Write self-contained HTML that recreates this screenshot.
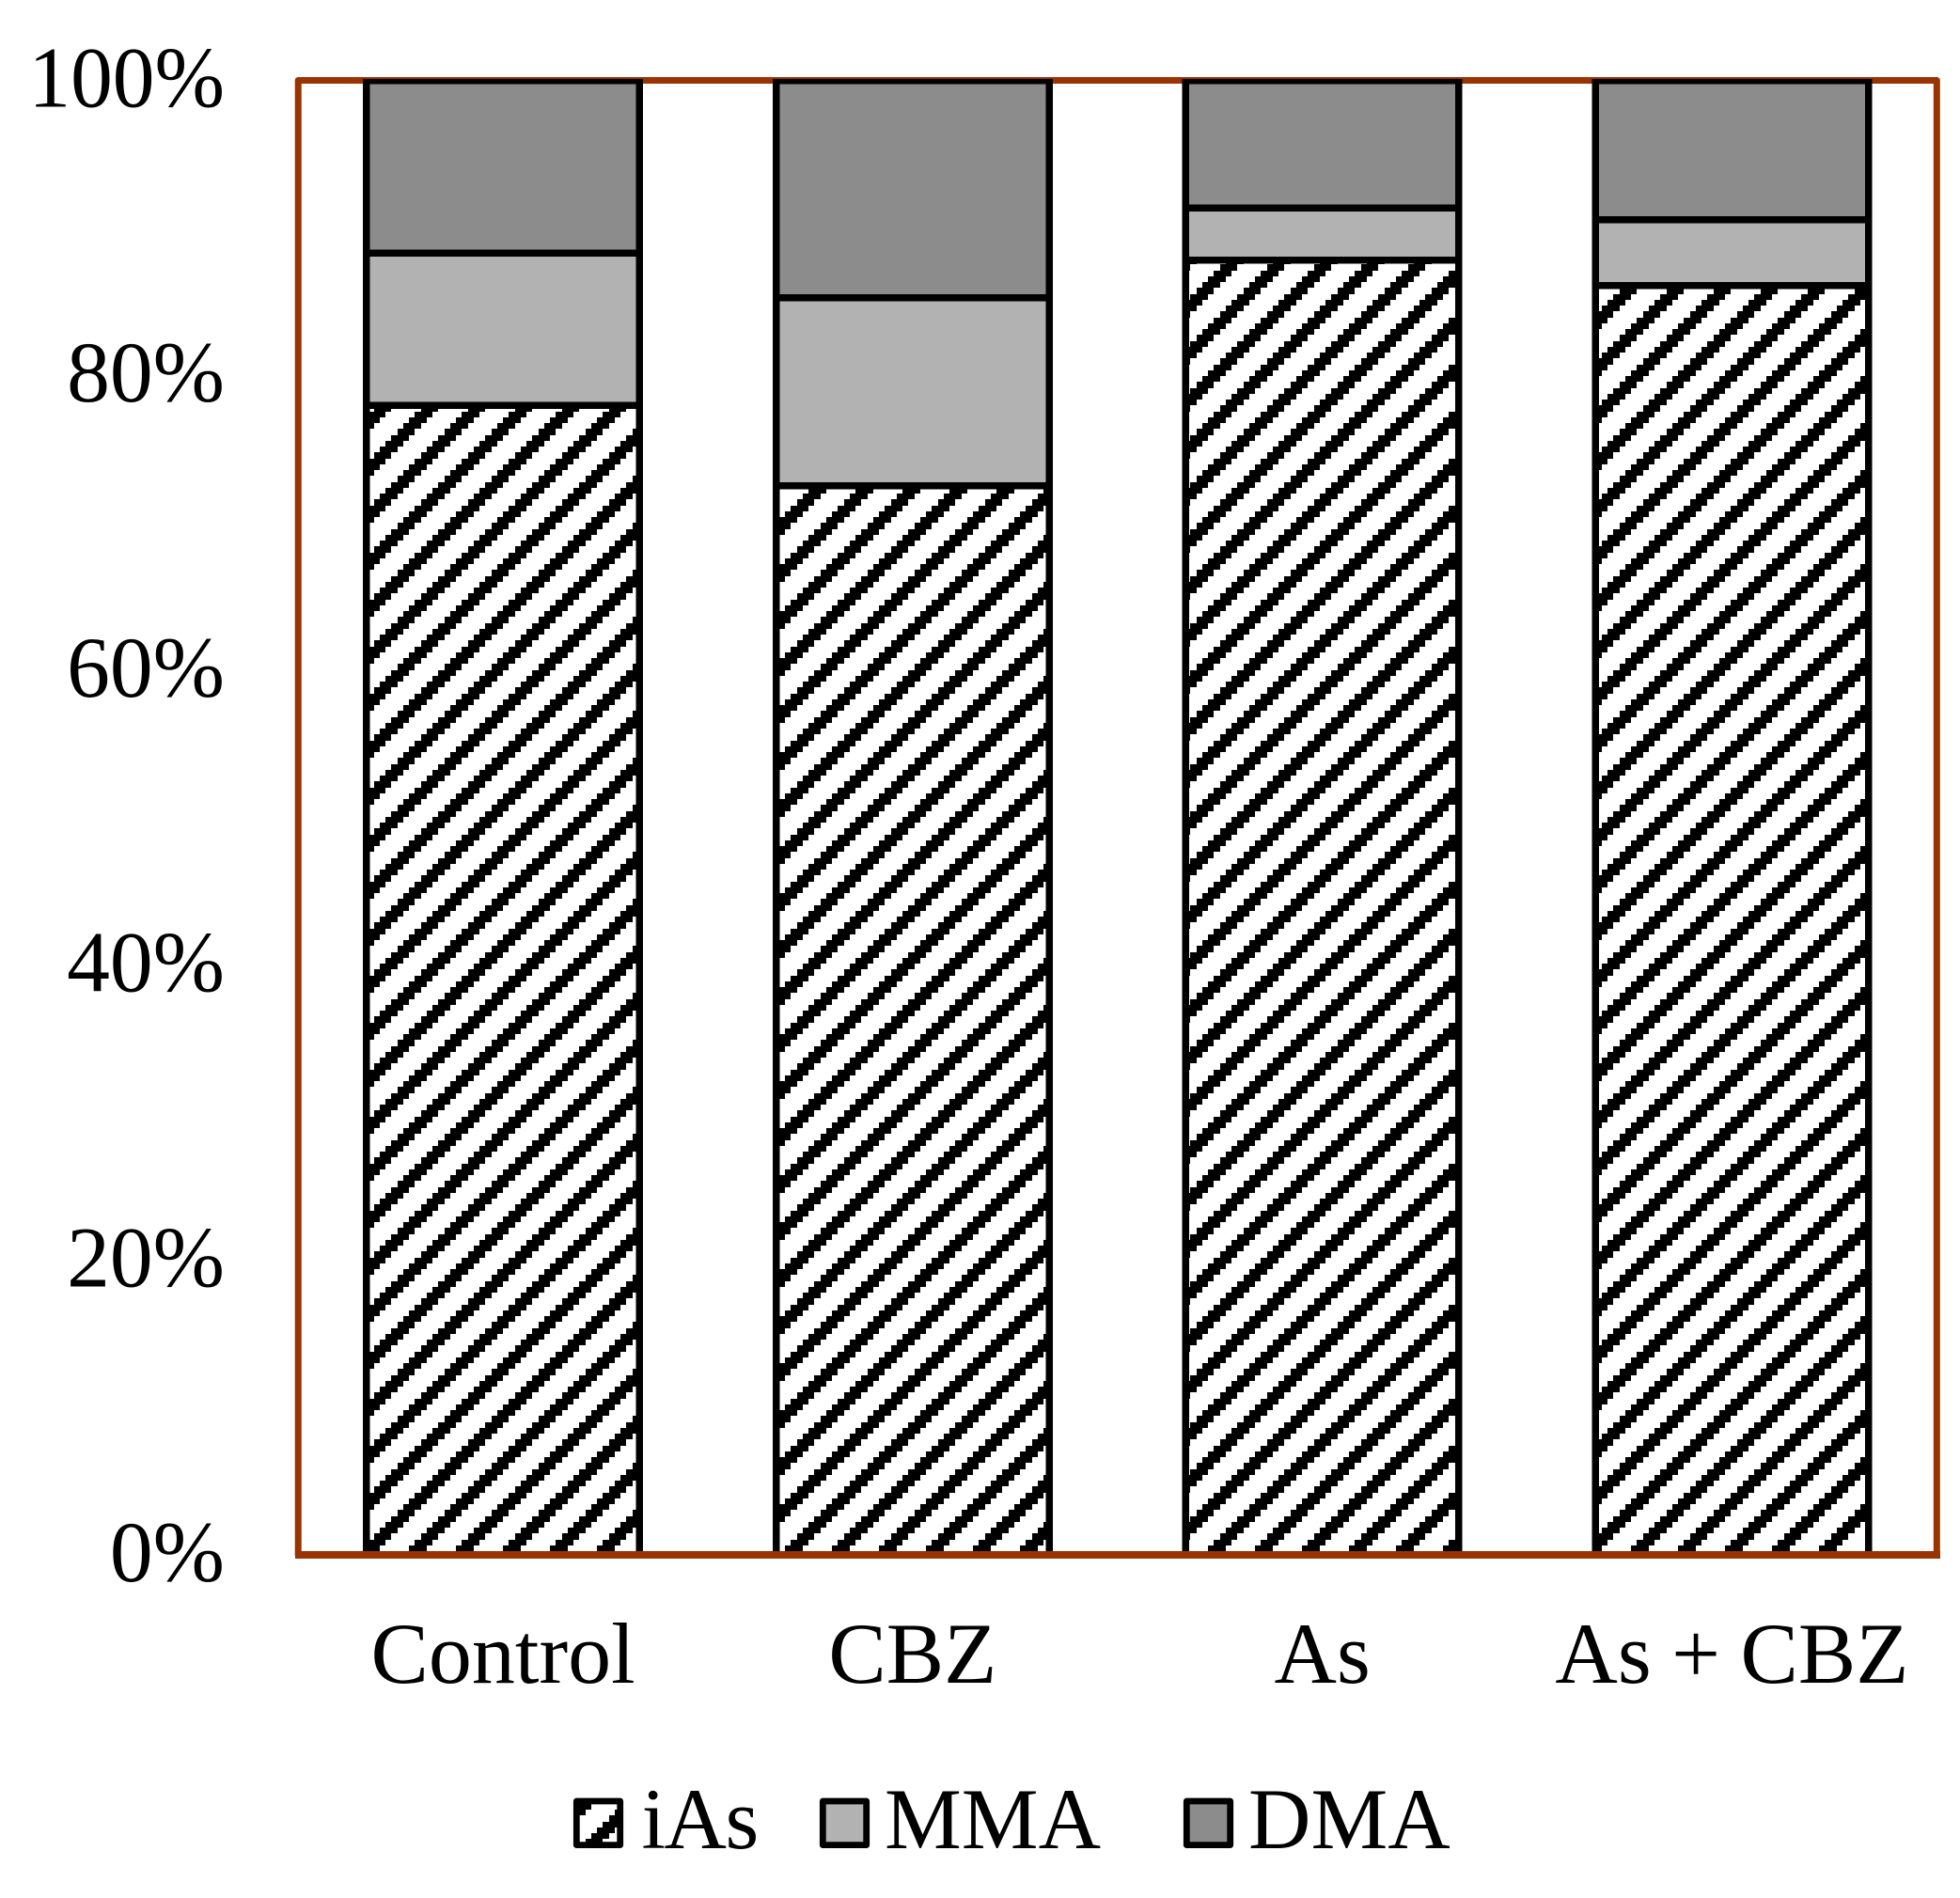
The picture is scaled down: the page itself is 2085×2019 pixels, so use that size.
<!DOCTYPE html>
<html lang="en">
<head>
<meta charset="utf-8">
<title>Arsenic species stacked bar chart</title>
<style>
  html, body { margin: 0; padding: 0; background: #ffffff; }
  svg { display: block; }
  text { font-family: "Liberation Serif", "Times New Roman", serif; fill: #000000; }
</style>
</head>
<body>
<svg id="chart" xmlns="http://www.w3.org/2000/svg" width="2085" height="2019" viewBox="0 0 2085 2019">
  <defs>
    <pattern id="hatch" patternUnits="userSpaceOnUse" x="435" y="1600" width="50" height="50">
      <rect x="0" y="0" width="50" height="50" fill="#ffffff" shape-rendering="crispEdges"></rect>
      <g id="hatch-cells" fill="#000000" shape-rendering="crispEdges"></g>
    </pattern>
    <clipPath id="plot-clip">
      <rect x="300" y="84" width="1780" height="1590"></rect>
    </clipPath>
  </defs>
  <rect x="317.2" y="85.5" width="1743.1" height="1568.5" fill="#ffffff" stroke="#993300" stroke-width="7" stroke-linejoin="round"></rect>
  <g id="bars" clip-path="url(#plot-clip)"></g>
  <line x1="314" y1="1654" x2="2064" y2="1654" stroke="#993300" stroke-width="8" shape-rendering="crispEdges"></line>
  <g id="y-ticks"></g>
  <g id="x-ticks"></g>
  <g id="legend"></g>
</svg>
<script>
const categories = ['Control', 'CBZ', 'As', 'As + CBZ'];
const seriesNames = ['iAs', 'MMA', 'DMA'];
const iAsValues = [77.97, 72.52, 87.82, 86.08];
const mmaValues = [10.31, 12.75, 3.51, 4.48];
const dmaValues = [11.72, 14.73, 8.67, 9.44];
const yTickValues = [0, 20, 40, 60, 80, 100];

const SVG_NS = 'http://www.w3.org/2000/svg';
const plotLeft = 317.2, plotWidth = 1743.1, plotTop = 85.5, plotBottom = 1654;
const fills = ['url(#hatch)', '#b2b2b2', '#8c8c8c'];
const allSeries = [iAsValues, mmaValues, dmaValues];
const FONT = 92;

function xBand() { return plotWidth / categories.length; }
function xCenter(i) { return plotLeft + xBand() * (i + 0.5); }
function yScale(v) { return plotBottom - (v / 100) * (plotBottom - plotTop); }
function make(tag) { return document.createElementNS(SVG_NS, tag); }
function edge(n) { return Math.round(n * 6.25); }

// 8x8 upward-diagonal hatch tile on whole-pixel cell edges
const hatchCells = document.getElementById('hatch-cells');
for (let k = 0; k < 8; k++) {
  for (let j = 0; j < 3; j++) {
    const c = (k + j) % 8;
    const r = make('rect');
    r.setAttribute('x', edge(c));
    r.setAttribute('y', edge(7 - k));
    r.setAttribute('width', edge(c + 1) - edge(c));
    r.setAttribute('height', edge(8 - k) - edge(7 - k));
    hatchCells.appendChild(r);
  }
}

// bars
const barsGroup = document.getElementById('bars');
const barWidth = xBand() * 0.667;
categories.forEach((cat, i) => {
  let cumulative = 0;
  allSeries.forEach((vals, s) => {
    const y0 = yScale(cumulative);
    const y1 = yScale(cumulative + vals[i]);
    cumulative += vals[i];
    const rect = make('rect');
    
    
    rect.setAttribute('x', xCenter(i) - barWidth / 2);
    rect.setAttribute('y', y1);
    rect.setAttribute('width', barWidth);
    rect.setAttribute('height', y0 - y1);
    rect.setAttribute('fill', fills[s]);
    rect.setAttribute('stroke', '#000000');
    rect.setAttribute('stroke-width', '7.5');
    rect.setAttribute('shape-rendering', 'crispEdges');
    barsGroup.appendChild(rect);
  });
});

// y tick labels
const yGroup = document.getElementById('y-ticks');
yTickValues.forEach((v) => {
  const t = make('text');
  const squeeze = v >= 100 ? 0.972 : 0.996;
  
  
  t.setAttribute('transform', 'translate(239 ' + (yScale(v) + 28) + ') scale(' + squeeze + ' 1)');
  t.setAttribute('font-size', FONT);
  t.setAttribute('text-anchor', 'end');
  t.textContent = v + '%';
  yGroup.appendChild(t);
});

// x tick labels
const xGroup = document.getElementById('x-ticks');
categories.forEach((cat, i) => {
  const t = make('text');
  
  
  t.setAttribute('x', xCenter(i));
  t.setAttribute('y', 1790);
  t.setAttribute('font-size', FONT);
  t.setAttribute('text-anchor', 'middle');
  t.setAttribute('word-spacing', '-1.5');
  t.textContent = cat;
  xGroup.appendChild(t);
});

// legend
const legendGroup = document.getElementById('legend');
const legendSwatchX = [613.3, 875.3, 1262.3];
const legendTextX = [682.5, 941, 1328];
const legendSpacing = [-1.5, 0, 0];
seriesNames.forEach((name, s) => {
  const swatch = make('rect');
  
  
  swatch.setAttribute('x', legendSwatchX[s]);
  swatch.setAttribute('y', 1916);
  swatch.setAttribute('width', 46.4);
  swatch.setAttribute('height', 46.6);
  swatch.setAttribute('fill', fills[s]);
  swatch.setAttribute('stroke', '#000000');
  swatch.setAttribute('stroke-width', '6.8');
  swatch.setAttribute('stroke-linejoin', 'round');
  legendGroup.appendChild(swatch);
  const label = make('text');
  
  
  label.setAttribute('x', legendTextX[s]);
  label.setAttribute('y', 1966);
  label.setAttribute('font-size', FONT);
  label.setAttribute('letter-spacing', legendSpacing[s]);
  label.textContent = name;
  legendGroup.appendChild(label);
});
</script>
</body>
</html>
